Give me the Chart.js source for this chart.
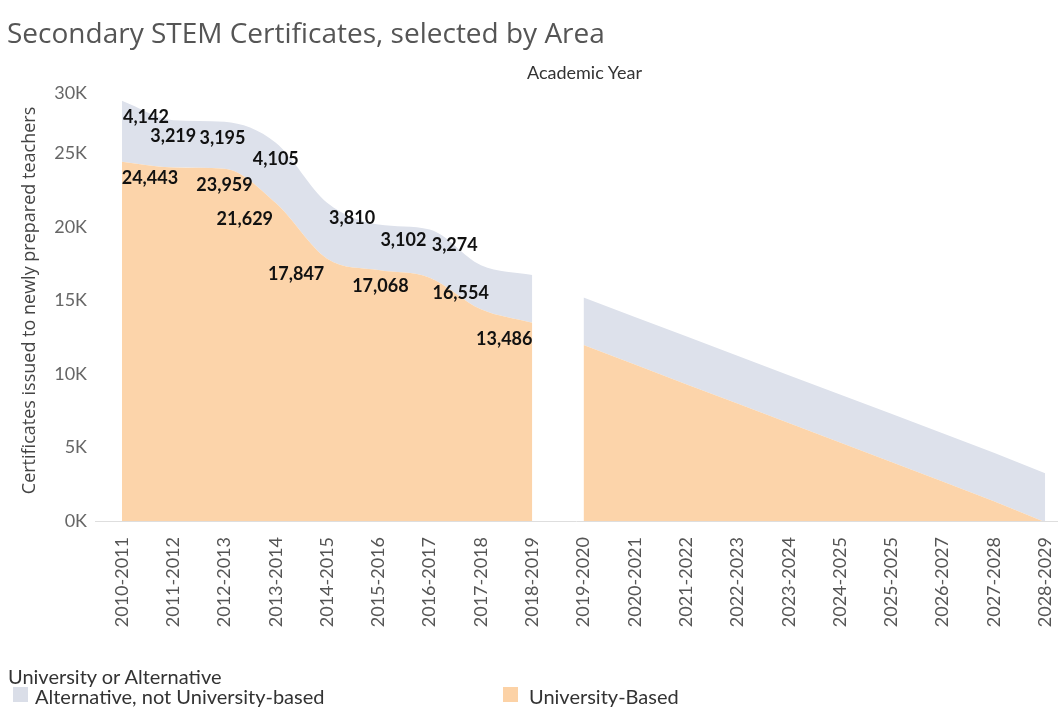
<!DOCTYPE html>
<html><head><meta charset="utf-8">
<script src="https://cdn.jsdelivr.net/npm/chart.js@4"></script>
<style>
html,body{margin:0;padding:0;background:#fff;}
#wrap{position:relative;width:1058px;height:707px;overflow:hidden;}
canvas{position:absolute;left:0;top:0;}
.t{position:absolute;white-space:nowrap;line-height:1;}
#title{left:7px;top:13px;font:28px "Open Sans",sans-serif;color:#555;}
#xhead{left:527px;top:61px;font:18px Lato,sans-serif;color:#333;}
#legtitle{left:8px;top:664px;font:20px Lato,sans-serif;color:#333;}
.leg{top:684px;font:20px Lato,sans-serif;color:#333;}
.sw{position:absolute;top:3px;width:15px;height:15px;}
</style></head><body>
<div id="wrap">
<canvas id="c" width="1058" height="707"></canvas>
<div class="t" id="title">Secondary STEM Certificates, selected by Area</div>
<div class="t" id="xhead">Academic Year</div>
<div class="t" id="legtitle">University or Alternative</div>
<div class="t leg" style="left:13px"><span class="sw" style="left:0;background:#dadee8"></span><span style="margin-left:22px">Alternative, not University-based</span></div>
<div class="t leg" style="left:503px"><span class="sw" style="left:0;background:#fcd2a6"></span><span style="margin-left:26px">University-Based</span></div>
</div>
<script>
const categories = ['2010-2011','2011-2012','2012-2013','2013-2014','2014-2015','2015-2016','2016-2017','2017-2018','2018-2019','2019-2020','2020-2021','2021-2022','2022-2023','2023-2024','2024-2025','2025-2025','2026-2027','2027-2028','2028-2029'];
const universityActual = [24443, 24050, 23959, 21629, 17847, 17068, 16554, 14400, 13486];
const alternativeActual = [4142, 3219, 3195, 4105, 3810, 3102, 3274, 3000, 3250];
const universityProjected = [11970, 10640, 9310, 7990, 6660, 5340, 4010, 2680, 1350, -80];
const alternativeProjected = [3230, 3240, 3250, 3250, 3260, 3270, 3280, 3290, 3300, 3320];
const yTicks = [0, 5000, 10000, 15000, 20000, 25000, 30000];

// which actual points carry a value label (Tableau hides overlapping ones)
const uniLabelIdx = [0, 2, 3, 4, 5, 6, 8];
const altLabelIdx = [0, 1, 2, 3, 4, 5, 6];
// label horizontal shifts (style only)
const uniLabelDx = [28, 0, -31, -31, 2, 31, -28];
const altLabelDx = [24, 0, -2, 0, 25, 25, 25];

const ORANGE = '#fcd4aa';
const GRAY = '#dde1eb';
const TICK_FONT = {family: 'Lato', size: 18};

const actualStart = 0;
const projStart = actualStart + universityActual.length;
const pts = (arr, start) => arr.map((v, i) => ({x: start + i, y: v}));
const fmtK = v => (v / 1000) + 'K';
const topTick = yTicks[yTicks.length - 1];

const labelPlugin = {
  id: 'vals',
  afterDatasetsDraw(chart) {
    const ctx = chart.ctx;
    ctx.save();
    ctx.font = 'bold 18px Lato, sans-serif';
    ctx.fillStyle = '#111';
    ctx.textAlign = 'center';
    ctx.textBaseline = 'middle';
    const draw = (dsIndex, values, idxs, dxs) => {
      const meta = chart.getDatasetMeta(dsIndex);
      idxs.forEach((i, k) => {
        const p = meta.data[i];
        ctx.fillText(values[i].toLocaleString('en-US'), p.x + dxs[k], p.y + 16);
      });
    };
    draw(0, universityActual, uniLabelIdx, uniLabelDx);
    draw(1, alternativeActual, altLabelIdx, altLabelDx);
    ctx.restore();
  },
  afterDraw(chart) {
    // top y tick label is nudged inside the pane, as in the original
    const s = chart.scales.y;
    const ctx = chart.ctx;
    ctx.save();
    ctx.font = '18px Lato, sans-serif';
    ctx.fillStyle = '#666';
    ctx.textAlign = 'right';
    ctx.textBaseline = 'middle';
    ctx.fillText(fmtK(topTick), s.right - 8, s.getPixelForValue(topTick) + 13);
    ctx.restore();
  }
};

new Chart(document.getElementById('c'), {
  type: 'line',
  data: {
    datasets: [
      {label: 'University-Based', data: pts(universityActual, actualStart), stack: 'a', fill: 'origin', backgroundColor: ORANGE, borderWidth: 0, pointRadius: 0, cubicInterpolationMode: 'monotone'},
      {label: 'Alternative, not University-based', data: pts(alternativeActual, actualStart), stack: 'a', fill: '-1', backgroundColor: GRAY, borderWidth: 0, pointRadius: 0, cubicInterpolationMode: 'monotone'},
      {label: 'University-Based (proj)', data: pts(universityProjected, projStart), stack: 'p', fill: 'origin', backgroundColor: ORANGE, borderWidth: 0, pointRadius: 0, tension: 0},
      {label: 'Alternative (proj)', data: pts(alternativeProjected, projStart), stack: 'p', fill: '-1', backgroundColor: GRAY, borderWidth: 0, pointRadius: 0, tension: 0}
    ]
  },
  options: {
    responsive: false,
    animation: false,
    events: [],
    layout: {padding: {top: 80, left: 0, right: 0, bottom: 0}},
    plugins: {legend: {display: false}, tooltip: {enabled: false}},
    scales: {
      x: {
        type: 'linear',
        min: -0.525, max: 18.25,
        afterBuildTicks: s => { s.ticks = categories.map((c, i) => ({value: i})); },
        afterFit: s => { s.height = 186; s.paddingLeft = 0; s.paddingRight = 0; },
        grid: {display: false, drawTicks: false},
        border: {display: false},
        ticks: {
          autoSkip: false, maxRotation: 90, minRotation: 90, padding: 16,
          callback: v => categories[v],
          color: '#555', font: TICK_FONT
        }
      },
      y: {
        stacked: 'single',
        min: 0, max: topTick,
        afterBuildTicks: s => { s.ticks = yTicks.map(v => ({value: v})); },
        afterFit: s => { s.width = 95; s.paddingTop = 0; s.paddingBottom = 0; },
        grid: {drawTicks: false, color: c => c.tick && c.tick.value === 0 ? '#dedede' : 'rgba(0,0,0,0)'},
        border: {display: false},
        ticks: {padding: 8, color: '#666', font: TICK_FONT, callback: v => v === topTick ? '' : fmtK(v)},
        title: {display: true, text: 'Certificates issued to newly prepared teachers', color: '#444', font: {family: 'Open Sans', size: 18}, padding: {top: 19, bottom: 0}}
      }
    }
  },
  plugins: [labelPlugin]
});
</script>
</body></html>
